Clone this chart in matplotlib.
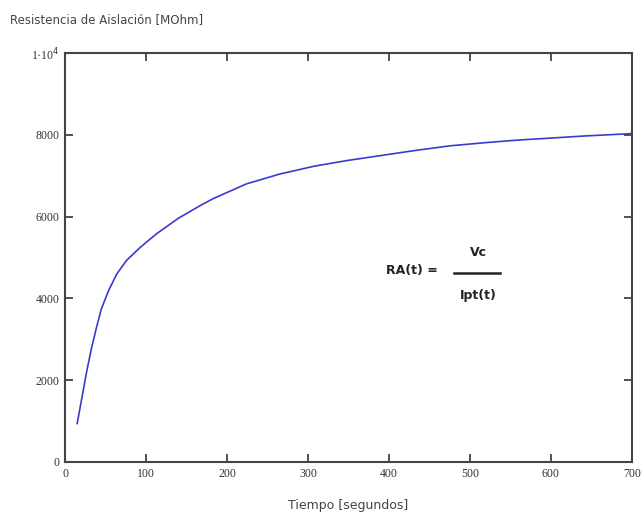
import matplotlib.pyplot as plt

# values
t = [15, 21, 27, 33, 39, 45, 54, 64, 76, 93, 113, 140, 167, 183, 224, 265,
     307, 348, 389, 430, 475, 520, 558, 600, 640, 700]
ra = [940, 1590, 2240, 2810, 3300, 3750, 4200, 4600, 4930, 5250, 5580, 5960,
      6270, 6440, 6800, 7040, 7230, 7370, 7490, 7610, 7730, 7810, 7870, 7920,
      7970, 8030]

xticks = [0, 100, 200, 300, 400, 500, 600, 700]
yticks = [0, 2000, 4000, 6000, 8000, 10000]
ylabels = ["0", "2000", "4000", "6000", "8000", "1·10$^4$"]

fig = plt.figure(figsize=(6.44, 5.15), dpi=100)
ax = fig.add_axes([0.101, 0.103, 0.88, 0.794])

ax.plot(t, ra, color="#3a3ad0", lw=1.2, solid_joinstyle="round")

ax.set_xlim(0, 700)
ax.set_ylim(0, 10000)
ax.set_xticks(xticks)
ax.set_yticks(yticks)
ax.set_yticklabels(ylabels)

for lab in ax.get_xticklabels() + ax.get_yticklabels():
  lab.set_family("Liberation Serif")
  lab.set_fontsize(8.5)
  lab.set_color("#333333")

ax.tick_params(direction="in", length=6, width=1.2, color="#333333",
               top=True, right=True, pad=4)
for s in ax.spines.values():
  s.set_linewidth(1.5)
  s.set_color("#444444")

fig.text(0.016, 0.962, "Resistencia de Aislación [MOhm]", fontsize=8.5,
         color="#444444", family="DejaVu Sans", va="center")
ax.set_xlabel("Tiempo [segundos]", fontsize=9, color="#444444", labelpad=14)

# formula
ax.text(428, 4680, "RA(t) =", fontsize=9, fontweight="bold", ha="center", va="center", color="#222222")
ax.text(510, 5130, "Vc", fontsize=9, fontweight="bold", ha="center", va="center", color="#222222")
ax.plot([481, 537], [4630, 4630], color="#222222", lw=1.8)
ax.text(510, 4060, "Ipt(t)", fontsize=9, fontweight="bold", ha="center", va="center", color="#222222")

fig.savefig("out.png", dpi=100)
